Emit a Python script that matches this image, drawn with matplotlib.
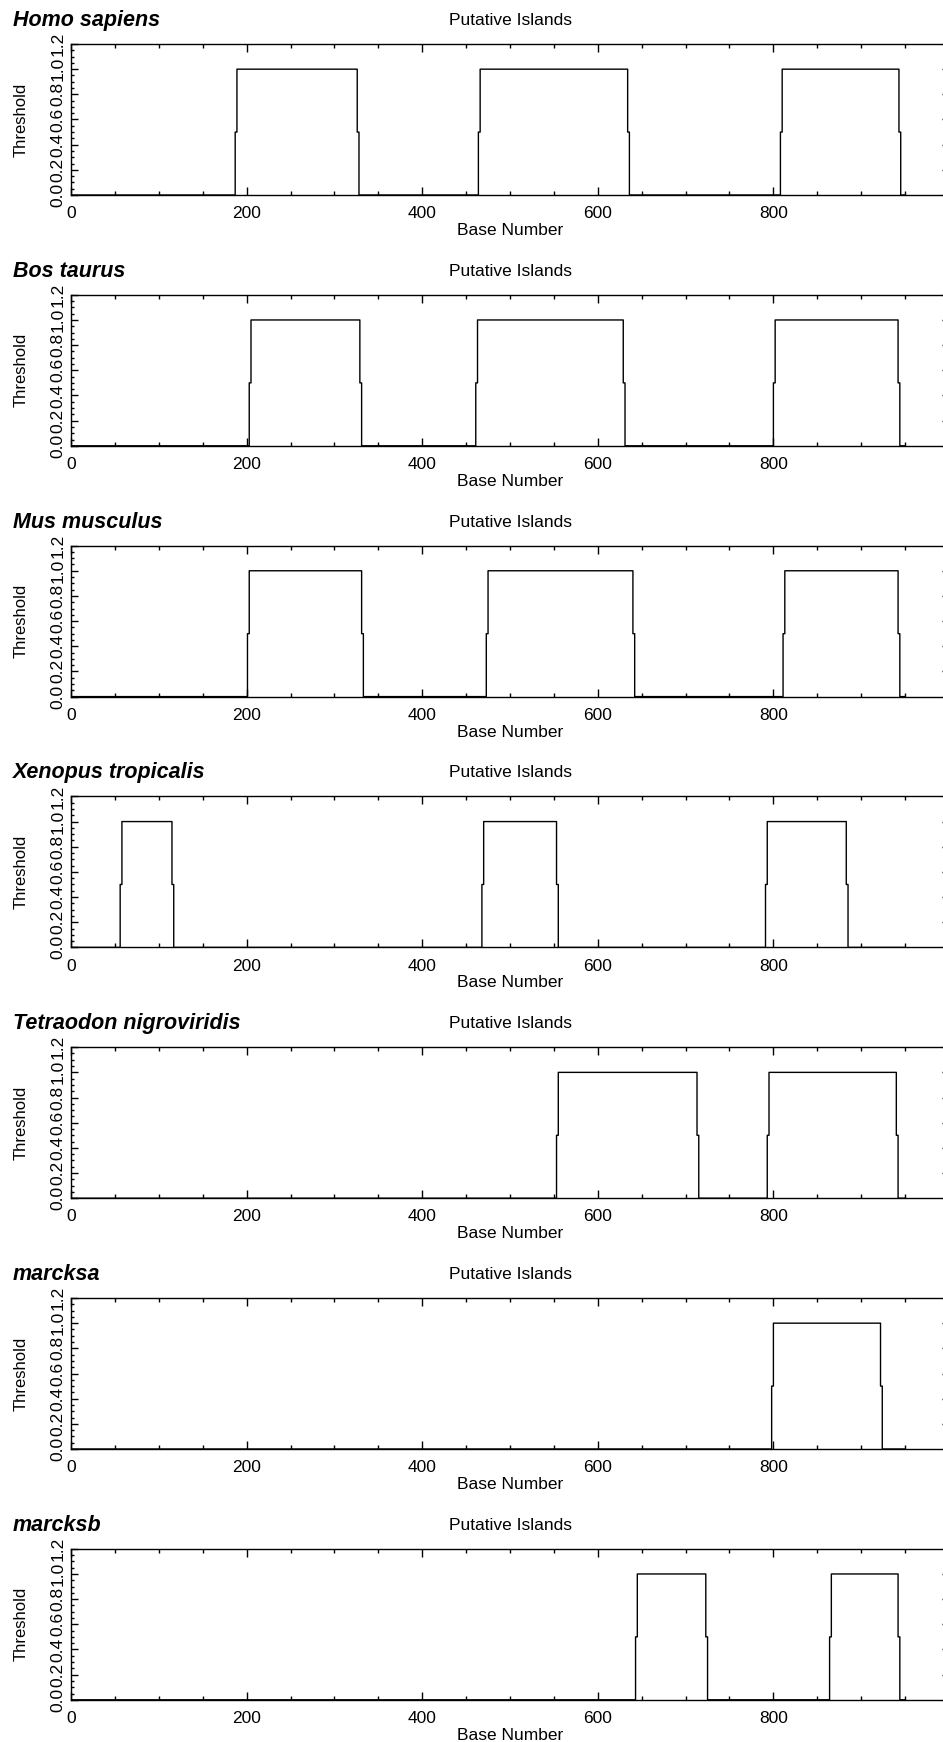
import numpy as np
import matplotlib
matplotlib.use('Agg')
import matplotlib.pyplot as plt
from matplotlib.ticker import MultipleLocator

plt.rcParams['font.family'] = ['Liberation Sans', 'DejaVu Sans']

# island boundaries (base numbers)
species = ['Homo sapiens', 'Bos taurus', 'Mus musculus', 'Xenopus tropicalis',
           'Tetraodon nigroviridis', 'marcksa', 'marcksb']
island_starts = [[187, 464, 808],
                 [203, 461, 800],
                 [201, 473, 811],
                 [56, 468, 791],
                 [553, 793],
                 [798],
                 [643, 864]]
island_ends = [[326, 634, 943],
               [329, 629, 942],
               [331, 640, 942],
               [115, 553, 883],
               [713, 940],
               [922],
               [723, 942]]
seq_length = 950
x_ticks = [0, 200, 400, 600, 800]
y_ticks = [0.0, 0.2, 0.4, 0.6, 0.8, 1.0, 1.2]

W, H = 943, 1742
fig = plt.figure(figsize=(W / 100, H / 100), dpi=100)

ax_left, ax_width, ax_height = 71, 878, 151   # pixels, right spine falls off the image
first_top, step = 44, 250.8


def threshold_signal(starts, ends):
    # 0 outside islands, 1 inside, half-step at each edge
    base = np.arange(seq_length + 1)
    val = np.zeros(len(base))
    for s, e in zip(starts, ends):
        val[s:s + 2] = 0.5
        val[s + 2:e] = 1.0
        val[e:e + 2] = 0.5
    return base, val


for i, name in enumerate(species):
    top = first_top + step * i
    ax = fig.add_axes([ax_left / W, 1 - (top + ax_height) / H, ax_width / W, ax_height / H])

    x, y = threshold_signal(island_starts[i], island_ends[i])
    ax.plot(x, y, drawstyle='steps-post', color='black', lw=1.0)

    ax.set_xlim(0, 1000)
    ax.set_ylim(0, 1.2)
    ax.set_xticks(x_ticks)
    ax.set_xticklabels([str(t) for t in x_ticks])
    ax.xaxis.set_minor_locator(MultipleLocator(50))
    ax.set_yticks(y_ticks)
    ax.set_yticklabels(['%.1f' % t for t in y_ticks], rotation=90, va='center')
    ax.yaxis.set_minor_locator(MultipleLocator(0.05))

    ax.tick_params(which='both', direction='in', top=True, right=True,
                   labelsize=12.5, width=1.0, color='black')
    ax.tick_params(axis='x', which='major', length=6, pad=8)
    ax.tick_params(axis='x', which='minor', length=3)
    ax.tick_params(axis='y', which='major', length=5, pad=4)
    ax.tick_params(axis='y', which='minor', length=2.5)
    for sp in ax.spines.values():
        sp.set_linewidth(1.0)

    fig.text(13 / W, 1 - (top - 18) / H, name, fontsize=15.5,
             fontweight='bold', style='italic', va='baseline')
    fig.text(510 / W, 1 - (top - 19) / H, 'Putative Islands', fontsize=12.5,
             ha='center', va='baseline')
    fig.text(510 / W, 1 - (top + ax_height + 40) / H, 'Base Number', fontsize=12.5,
             ha='center', va='baseline')
    fig.text(21 / W, 1 - (top + ax_height / 2) / H, 'Threshold', fontsize=12,
             rotation=90, ha='center', va='center')

fig.savefig('out.png', dpi=100)
